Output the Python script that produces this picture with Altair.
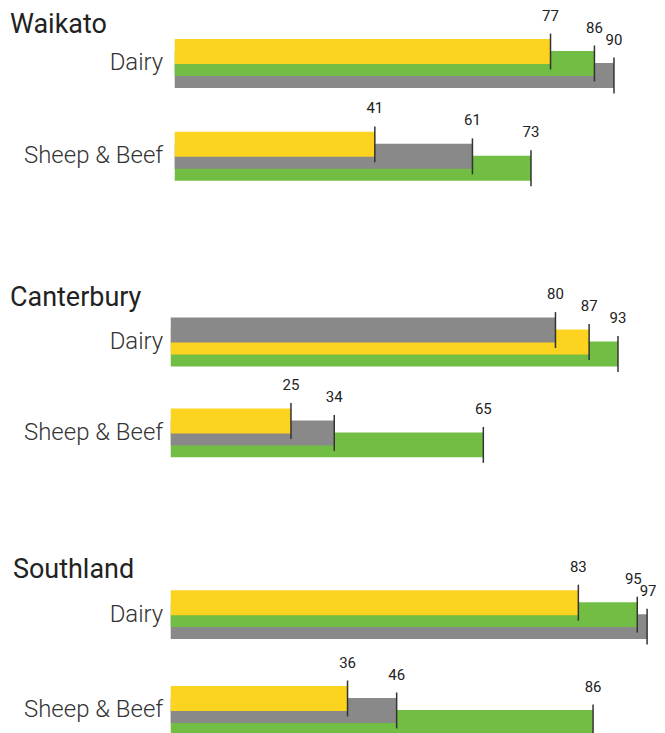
import altair as alt
import pandas as pd

regions = ["Waikato", "Canterbury", "Southland"]
farm_types = ["Dairy", "Sheep & Beef"]
series_names = ["Yellow series", "Green series", "Grey series"]
series_colors = ["#FCD31E", "#72BD44", "#898989"]

# one value per (region, farm type), ordered region by region: Dairy, Sheep & Beef
yellow_vals = [77, 41, 87, 25, 83, 36]
green_vals = [86, 73, 93, 65, 95, 86]
grey_vals = [90, 61, 80, 34, 97, 46]

rows = []
k = 0
for region in regions:
    for farm in farm_types:
        vals = [yellow_vals[k], green_vals[k], grey_vals[k]]
        order = sorted(range(3), key=lambda j: vals[j])
        ranked = [vals[j] for j in order]
        for rank, j in enumerate(order):
            below = ranked[rank - 1] if rank > 0 else None
            above = ranked[rank + 1] if rank < 2 else None
            if above is not None and above - vals[j] < 3:
                nudge = "left"
            elif below is not None and vals[j] - below < 3:
                nudge = "right"
            else:
                nudge = "none"
            rows.append({"region": region, "farm": farm, "series": series_names[j],
                         "value": vals[j], "rank": rank, "nudge": nudge})
        k += 1
df = pd.DataFrame(rows).sort_values("rank", ascending=False, kind="stable")

FONT = "Roboto"
EXTENT = 165
BAND = 36


def panel(region, px_per_unit, shift, title_dx, title_offset, step):
    span = round(px_per_unit * 98)
    pin = 1 - BAND / step
    base = alt.Chart(df).transform_filter(alt.datum.region == region).encode(
        x=alt.X("value:Q",
                scale=alt.Scale(domain=[0, 98], nice=False, zero=True,
                                range=[shift, shift + span]),
                axis=None),
        y=alt.Y("farm:N", sort=farm_types,
                scale=alt.Scale(paddingInner=pin, paddingOuter=0),
                axis=alt.Axis(title=None, domain=False, ticks=False, labelFontSize=24,
                              labelFont=FONT, labelFontWeight=300, labelColor="#333333",
                              labelPadding=12, minExtent=EXTENT, maxExtent=EXTENT)),
        yOffset=alt.YOffset("rank:O", scale=alt.Scale(paddingInner=0, paddingOuter=0)),
    )
    bars = base.mark_bar(size=25).encode(
        color=alt.Color("series:N", scale=alt.Scale(domain=series_names, range=series_colors),
                        legend=None)
    )
    ticks = base.mark_tick(size=36, thickness=1.5, color="#333333", opacity=1).encode(
        yOffset=alt.YOffset("rank:O", bandPosition=0,
                            scale=alt.Scale(paddingInner=0, paddingOuter=0))
    )
    label_style = dict(dy=-36, fontSize=15, font=FONT, color="#222222")
    labels = base.mark_text(**label_style).encode(text="value:Q").transform_filter(
        alt.datum.nudge == "none")
    labels_l = base.mark_text(dx=-4, **label_style).encode(text="value:Q").transform_filter(
        alt.datum.nudge == "left")
    labels_r = base.mark_text(dx=1, **label_style).encode(text="value:Q").transform_filter(
        alt.datum.nudge == "right")
    return alt.layer(bars, ticks, labels, labels_l, labels_r).properties(
        width=span + shift, height=round(step * (2 - pin)),
        title=alt.TitleParams(region, anchor="start", frame="group", dx=title_dx,
                              fontSize=27, font=FONT, fontWeight="normal",
                              color="#222222", offset=title_offset),
    )


p1 = panel("Waikato", 4.889, 0, -165, -30, 93)
p2 = panel("Canterbury", 4.817, -4, -165, -25, 91)
p3 = panel("Southland", 4.914, -4, -162, -24, 96)

chart = alt.vconcat(alt.vconcat(p1, p2, spacing=98), p3, spacing=93).properties(
    padding={"left": 2, "top": 0, "right": 0, "bottom": 0}
).configure_view(stroke=None)

chart.save("out.html", embed_options={"renderer": "svg", "actions": False})
